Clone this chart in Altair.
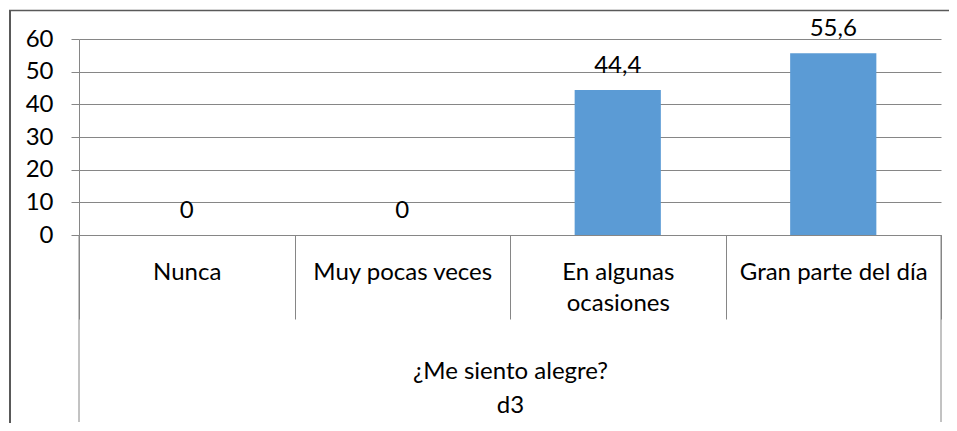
import altair as alt
import pandas as pd

categories = ["Nunca", "Muy pocas veces", "En algunas ocasiones", "Gran parte del día"]
values = [0, 0, 44.4, 55.6]
y_ticks = [0, 10, 20, 30, 40, 50, 60]
axis_title = ["¿Me siento alegre?", "d3"]

df = pd.DataFrame({"cat": categories, "val": values})

FONT = "Lato"
FS = 24
GRAY = "#868686"
W, H = 862, 196

x_enc = alt.X(
    "cat:N",
    sort=categories,
    scale=alt.Scale(paddingInner=0, paddingOuter=0),
    axis=alt.Axis(
        title=axis_title,
        grid=False,
        domainColor=GRAY,
        tickColor=GRAY,
        tickBand="extent",
        tickSize=84,
        labelAngle=0,
        labelFont=FONT,
        labelFontSize=FS,
        labelColor="#000000",
        labelBaseline="top",
        labelPadding=-59,
        labelLineHeight=31,
        labelOverlap=False,
        labelLimit=0,
        labelExpr="datum.value == 'En algunas ocasiones' ? ['En algunas', 'ocasiones'] : datum.value",
        titleFont=FONT,
        titleFontSize=FS,
        titleFontWeight="normal",
        titleColor="#000000",
        titleLineHeight=34,
        titleBaseline="top",
        titleX=W / 2,
        titleY=124,
    ),
)

y_enc = alt.Y(
    "val:Q",
    scale=alt.Scale(domain=[0, 60], nice=False),
    axis=alt.Axis(
        title=None,
        values=y_ticks,
        tickCount=7,
        labelOverlap=False,
        gridColor=GRAY,
        domainColor=GRAY,
        tickColor=GRAY,
        tickSize=8,
        labelPadding=18,
        labelFont=FONT,
        labelFontSize=FS,
        labelColor="#000000",
    ),
)

base = alt.Chart(df)

bars = base.mark_bar(color="#5B9BD5", width=alt.RelativeBandSize(0.4)).encode(x=x_enc, y=y_enc)

labels = base.transform_calculate(
    lab="replace(format(datum.val, '.1~f'), '.', ',')"
).mark_text(font=FONT, fontSize=FS, color="#000000", dy=-24, baseline="middle").encode(
    x=alt.X("cat:N", sort=categories),
    y=alt.Y("val:Q"),
    text="lab:N",
)

one = alt.Chart(pd.DataFrame({"k": [0]}))
outer_left = one.mark_rule(color=GRAY, strokeWidth=1).encode(
    x=alt.value(0), y=alt.value(H), y2=alt.value(H + 187)
)
outer_right = one.mark_rule(color=GRAY, strokeWidth=1).encode(
    x=alt.value(W), y=alt.value(H), y2=alt.value(H + 187)
)
frame_left = one.mark_rule(color="#595959", strokeWidth=2).encode(
    x=alt.value(-69), y=alt.value(-29), y2=alt.value(420)
)
frame_top = one.mark_rule(color="#595959", strokeWidth=1.5).encode(
    x=alt.value(-70), x2=alt.value(900), y=alt.value(-28.5)
)

chart = (
    alt.layer(bars, labels, outer_left, outer_right, frame_left, frame_top)
    .properties(
        width=W,
        height=H,
        autosize=alt.AutoSizeParams(type="none"),
        padding={"left": 71, "top": 31, "right": 8, "bottom": 188},
    )
    .configure_view(stroke=None)
)

chart.save("out.html", embed_options={"renderer": "svg", "actions": False})
